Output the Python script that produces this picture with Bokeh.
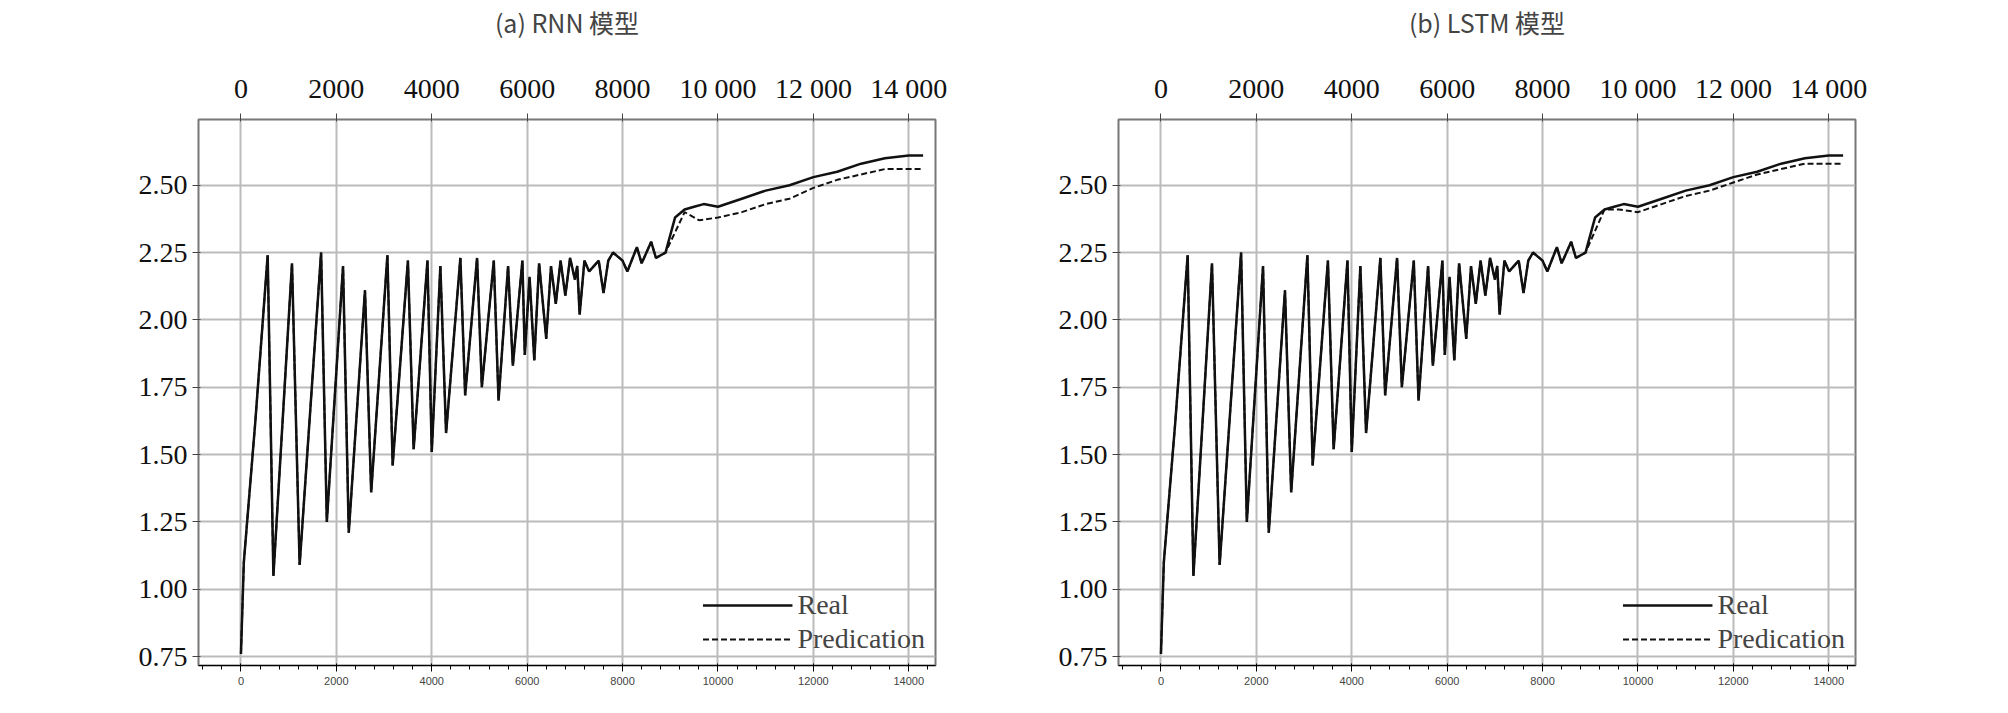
from bokeh.plotting import figure
from bokeh.layouts import row
from bokeh.models import FixedTicker, Legend, LegendItem, LinearAxis
from bokeh.embed import file_html
from bokeh.resources import INLINE

real_x = [0,60,300,560,680,1070,1230,1680,1800,2140,2260,2600,2730,3070,3180,3500,3620,3910,4000,4180,4300,4600,4700,4950,5050,5300,5400,5600,5700,5900,5950,6050,6150,6250,6400,6500,6600,6700,6800,6900,7000,7050,7100,7200,7300,7500,7600,7700,7800,8000,8100,8300,8400,8600,8700,8900,9100,9300,9500,9700,10000,10500,11000,11500,12000,12500,13000,13500,14000,14300]
real_y = [0.76,1.10,1.62,2.24,1.05,2.21,1.09,2.25,1.25,2.20,1.21,2.11,1.36,2.24,1.46,2.22,1.52,2.22,1.51,2.20,1.58,2.23,1.72,2.23,1.75,2.22,1.70,2.20,1.83,2.22,1.87,2.16,1.85,2.21,1.93,2.20,2.06,2.22,2.09,2.23,2.15,2.20,2.02,2.22,2.18,2.22,2.10,2.22,2.25,2.22,2.18,2.27,2.21,2.29,2.23,2.25,2.38,2.41,2.42,2.43,2.42,2.45,2.48,2.50,2.53,2.55,2.58,2.60,2.61,2.61]

rnn_tail_x = [9300,9600,10000,10500,11000,11500,12000,12500,13000,13500,14300]
rnn_tail_y = [2.40,2.37,2.38,2.40,2.43,2.45,2.49,2.52,2.54,2.56,2.56]
lstm_tail_x = [9300,9600,10000,10500,11000,11500,12000,12500,13000,13500,14300]
lstm_tail_y = [2.41,2.41,2.40,2.43,2.46,2.48,2.51,2.54,2.56,2.58,2.58]

x_ticks = [0,2000,4000,6000,8000,10000,12000,14000]
x_labels = ["0","2000","4000","6000","8000","10 000","12 000","14 000"]
y_ticks = [0.75,1.00,1.25,1.50,1.75,2.00,2.25,2.50]

SERIF = "Liberation Serif"

def make(caption, tail_x, tail_y, left, right):
    px = [x for x in real_x if x < 9100] + tail_x
    py = [y for x, y in zip(real_x, real_y) if x < 9100] + tail_y
    p = figure(width=left + 737 + right, height=697, frame_width=737, frame_height=546,
               min_border_left=left, min_border_right=right, min_border_top=10,
               x_range=(-890, 14560), y_range=(0.717, 2.744),
               output_backend="svg", toolbar_location=None)
    r1 = p.line(real_x, real_y, line_color="#111111", line_width=2.5)
    r2 = p.line(px, py, line_color="#111111", line_width=2, line_dash="6 3")
    p.outline_line_color = "#777777"
    p.outline_line_width = 2
    top = LinearAxis(ticker=FixedTicker(ticks=[-100, 6900]),
                     major_label_overrides={-100: "1e8", 6900: "JVM predication"},
                     axis_line_color=None, major_tick_line_color=None,
                     minor_tick_line_color=None, major_label_standoff=10,
                     major_label_text_font=SERIF, major_label_text_font_size="26px",
                     major_label_text_color="#111111")
    p.add_layout(top, "above")
    for ax in (p.xaxis[0], p.yaxis[0]):
        ax.axis_line_color = None
        ax.major_tick_line_color = "#444444"
        ax.minor_tick_line_color = None
        ax.major_label_text_font = SERIF
        ax.major_label_text_font_size = "28px"
        ax.major_label_text_color = "#111111"
    p.xaxis[0].ticker = FixedTicker(ticks=x_ticks)
    p.xaxis[0].major_label_overrides = dict(zip(x_ticks, x_labels))
    p.yaxis.ticker = FixedTicker(ticks=y_ticks)
    p.yaxis.major_label_overrides = {t: f"{t:.2f}" for t in y_ticks}
    p.xaxis[0].axis_label = caption
    p.xaxis[0].axis_label_text_font = "Noto Sans CJK SC"
    p.xaxis[0].axis_label_text_font_style = "normal"
    p.xaxis[0].axis_label_text_font_size = "25px"
    p.xaxis[0].axis_label_standoff = 30
    p.grid.grid_line_color = "#bbbbbb"
    p.grid.grid_line_width = 2
    leg = Legend(items=[LegendItem(label="Real", renderers=[r1]),
                        LegendItem(label="Predication", renderers=[r2])],
                 location="bottom_right", border_line_color=None,
                 background_fill_alpha=0.0, label_text_font=SERIF,
                 label_text_font_size="28px", glyph_width=90, spacing=2)
    p.add_layout(leg)
    return p

p1 = make("(a) RNN 模型", rnn_tail_x, rnn_tail_y, 198, 61)
p2 = make("(b) LSTM 模型", lstm_tail_x, lstm_tail_y, 122, 137)
layout = row(p1, p2)
open("out.html", "w").write(file_html(layout, INLINE))
